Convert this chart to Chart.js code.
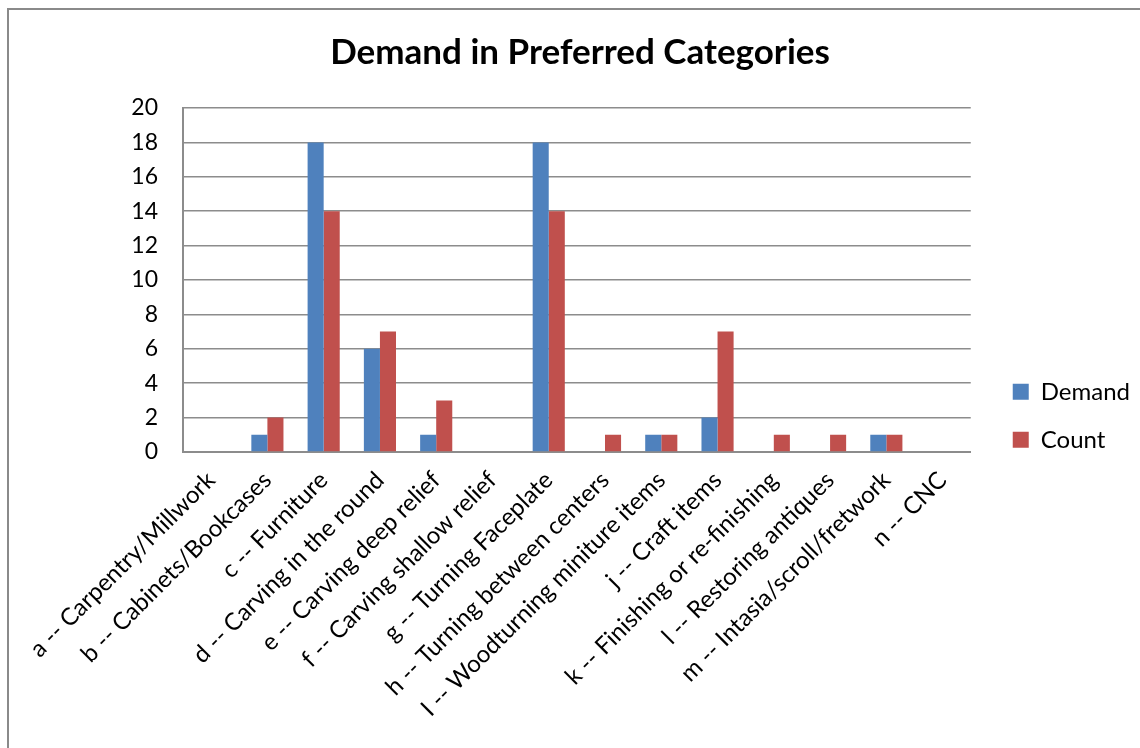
<!DOCTYPE html>
<html>
<head>
<meta charset="utf-8">
<script src="https://cdn.jsdelivr.net/npm/chart.js@4"></script>
<style>
  html, body { margin: 0; padding: 0; background: #fff; }
  #wrap { position: relative; width: 1140px; height: 748px; overflow: hidden; }
  #frame { position: absolute; left: 7px; top: 8px; width: 1200px; height: 800px;
           border-left: 2px solid #8a8a8a; border-top: 2px solid #8a8a8a; }
  canvas { position: absolute; left: 0; top: 0; }
</style>
</head>
<body>
<div id="wrap">
  <div id="frame"></div>
  <canvas id="c" width="1140" height="748"></canvas>
</div>
<script>
const categories = [
  "a -- Carpentry/Millwork",
  "b -- Cabinets/Bookcases",
  "c -- Furniture",
  "d -- Carving in the round",
  "e -- Carving deep relief",
  "f -- Carving shallow relief",
  "g -- Turning Faceplate",
  "h -- Turning between centers",
  "I -- Woodturning miniture items",
  "j -- Craft items",
  "k -- Finishing or re-finishing",
  "l -- Restoring antiques",
  "m -- Intasia/scroll/fretwork",
  "n -- CNC"
];
const demandValues = [0, 1, 18, 6, 1, 0, 18, 0, 1, 2, 0, 0, 1, 0];
const countValues  = [0, 2, 14, 7, 3, 0, 14, 1, 1, 7, 1, 1, 1, 0];
const yTicks = [0, 2, 4, 6, 8, 10, 12, 14, 16, 18, 20];
const chartTitle = "Demand in Preferred Categories";

const FONT = "Lato, 'Open Sans', sans-serif";
const GRID = "#8c8c8c";
const PAD_L = 20;

new Chart(document.getElementById("c"), {
  type: "bar",
  data: {
    labels: categories,
    datasets: [
      { label: "Demand", data: demandValues, backgroundColor: "#4F81BD", borderWidth: 0,
        categoryPercentage: 0.571, barPercentage: 1.0 },
      { label: "Count", data: countValues, backgroundColor: "#C0504D", borderWidth: 0,
        categoryPercentage: 0.571, barPercentage: 1.0 }
    ]
  },
  options: {
    responsive: false,
    animation: false,
    devicePixelRatio: 1,
    layout: { padding: { left: PAD_L, right: 0, top: 0, bottom: 0 } },
    plugins: {
      title: {
        display: true, text: chartTitle, color: "#000",
        font: { family: FONT, size: 35, weight: "bold", lineHeight: 1.2 },
        padding: { top: 32, bottom: 34 }
      },
      legend: {
        position: "right",
        title: { display: true, text: " ", font: { family: FONT, size: 23, lineHeight: 1.2 },
                 padding: { top: 56, bottom: 0 } },
        labels: {
          color: "#000",
          font: { family: FONT, size: 24 },
          boxWidth: 16, boxHeight: 16,
          padding: 24
        }
      },
      tooltip: { enabled: false }
    },
    scales: {
      x: {
        grid: { display: false, drawTicks: false },
        border: { display: true, color: GRID, width: 2 },
        ticks: {
          color: "#000", font: { family: FONT, size: 24 },
          minRotation: 45, maxRotation: 45, autoSkip: false, padding: 14
        },
        afterFit(s) { s.height = 748 - 452; s.paddingLeft = 0; s.paddingRight = 0; }
      },
      y: {
        min: 0, max: 20,
        afterBuildTicks(s) { s.ticks = yTicks.map(v => ({ value: v })); },
        grid: { color: GRID, lineWidth: 1.5, drawTicks: false },
        border: { display: true, color: GRID, width: 2 },
        ticks: { color: "#000", font: { family: FONT, size: 23 }, padding: 25 },
        afterFit(s) { s.width = 183 - PAD_L; }
      },
      spacer: {
        position: "right", display: true,
        grid: { display: false, drawTicks: false },
        border: { display: false },
        ticks: { display: false },
        afterFit(s) { s.width = 18; }
      }
    }
  }
});
</script>
</body>
</html>
